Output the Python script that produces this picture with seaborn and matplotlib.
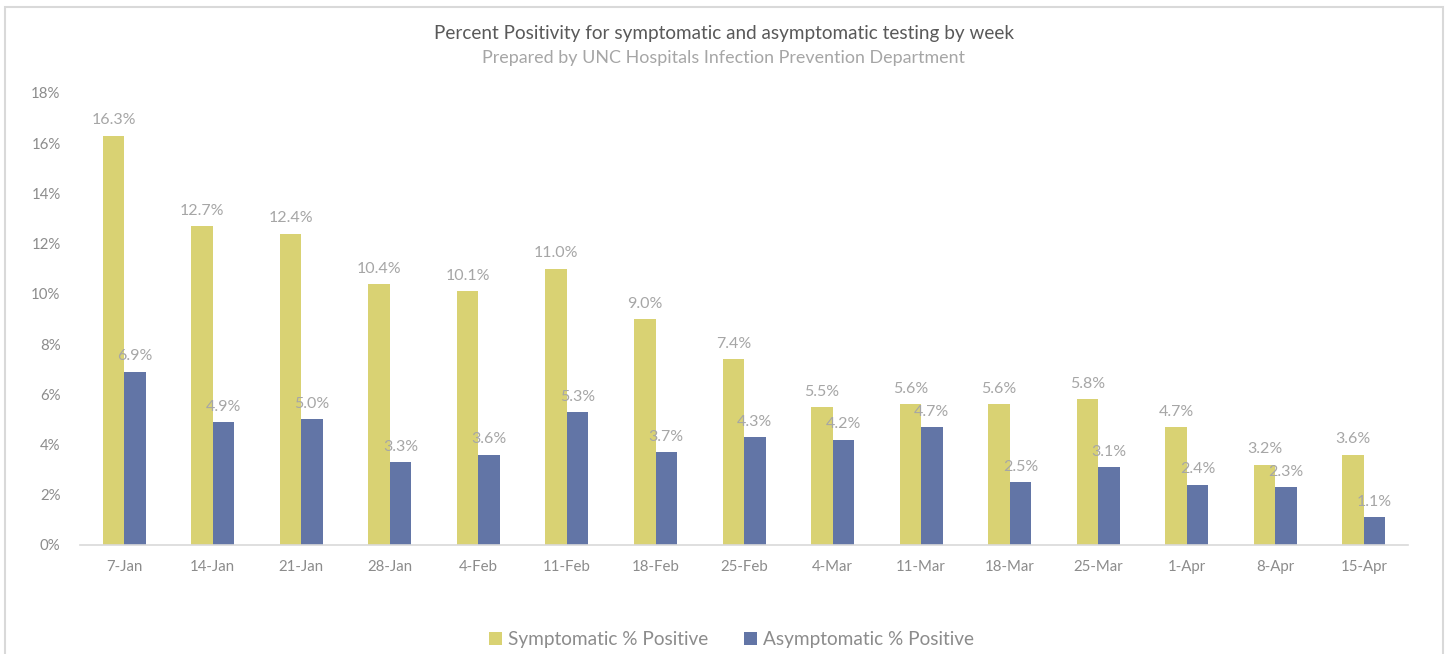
import pandas as pd
import matplotlib.pyplot as plt
import seaborn as sns
from matplotlib.patches import Rectangle
from matplotlib.ticker import FuncFormatter

# weekly percent positivity
weeks = ['7-Jan', '14-Jan', '21-Jan', '28-Jan', '4-Feb', '11-Feb', '18-Feb', '25-Feb',
         '4-Mar', '11-Mar', '18-Mar', '25-Mar', '1-Apr', '8-Apr', '15-Apr']
symptomatic = [16.3, 12.7, 12.4, 10.4, 10.1, 11.0, 9.0, 7.4, 5.5, 5.6, 5.6, 5.8, 4.7, 3.2, 3.6]
asymptomatic = [6.9, 4.9, 5.0, 3.3, 3.6, 5.3, 3.7, 4.3, 4.2, 4.7, 2.5, 3.1, 2.4, 2.3, 1.1]
series_names = ['Symptomatic % Positive', 'Asymptomatic % Positive']

df = pd.DataFrame({
    'Week': weeks * 2,
    'Percent': symptomatic + asymptomatic,
    'Series': [series_names[0]] * len(weeks) + [series_names[1]] * len(weeks),
})

sns.set_style('white')
plt.rcParams['font.family'] = ['Lato', 'DejaVu Sans']

grey = '#8c8c8c'
palette = {series_names[0]: '#D9D273', series_names[1]: '#6275A6'}

fig = plt.figure(figsize=(14.47, 6.54), dpi=100)
ax = fig.add_axes([0.0553, 0.1667, 0.9178, 0.6911])

sns.barplot(data=df, x='Week', y='Percent', hue='Series', palette=palette,
            width=0.486, saturation=1, linewidth=0, ax=ax, legend=True)

for cont in ax.containers:
    ax.bar_label(cont, fmt='%.1f%%', padding=6, color='#a6a6a6', fontsize=11.5)

ax.set_ylim(0, 18)
ax.set_yticks(range(0, 19, 2))
ax.yaxis.set_major_formatter(FuncFormatter(lambda v, p: f'{int(v)}%'))
ax.set_xlim(-0.5, len(weeks) - 0.5)
ax.set_xlabel('')
ax.set_ylabel('')
ax.tick_params(axis='both', colors=grey, labelsize=10.8, length=0)
ax.tick_params(axis='y', pad=14)
ax.tick_params(axis='x', pad=11)
for side in ['top', 'right', 'left']:
    ax.spines[side].set_visible(False)
ax.spines['bottom'].set_color('#d9d9d9')
ax.spines['bottom'].set_linewidth(1.2)

ax.legend_.remove()
handles, labels = ax.get_legend_handles_labels()
fig.legend(handles, labels, loc='center', bbox_to_anchor=(0.5055, 0.022), ncol=2,
           frameon=False, fontsize=13.7, labelcolor=grey, handlelength=0.7,
           handleheight=0.7, handletextpad=0.3, columnspacing=1.9)

fig.text(0.5, 0.949, 'Percent Positivity for symptomatic and asymptomatic testing by week',
         ha='center', va='center', fontsize=13.6, color='#595959')
fig.text(0.5, 0.911, 'Prepared by UNC Hospitals Infection Prevention Department',
         ha='center', va='center', fontsize=12.9, color='#a6a6a6')

# chart frame
fig.patches.append(Rectangle((5 / 1447, -0.05), 1438 / 1447, 0.05 + 1 - 7 / 654,
                             transform=fig.transFigure, fill=False,
                             edgecolor='#d9d9d9', linewidth=1.5))

fig.savefig('out.png', dpi=100)
